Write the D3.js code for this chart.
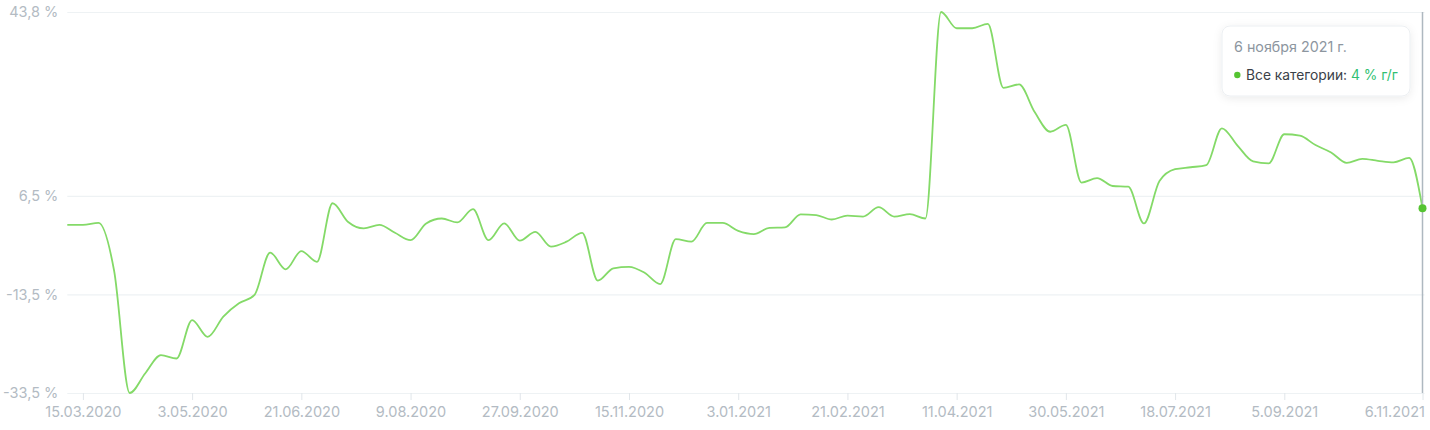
<!DOCTYPE html>
<html>
<head>
<meta charset="utf-8">
<script src="https://cdn.jsdelivr.net/npm/d3@7"></script>
<style>
  html, body { margin: 0; padding: 0; background: #fff; }
  svg { display: block; font-family: Inter, "Open Sans", sans-serif; }
</style>
</head>
<body>
<svg id="chart" width="1430" height="430"></svg>
<script>
// ---- data ----
const dates = [
  "2020-03-08","2020-03-15","2020-03-22","2020-03-29","2020-04-05","2020-04-12","2020-04-19","2020-04-26",
  "2020-05-03","2020-05-10","2020-05-17","2020-05-24","2020-05-31","2020-06-07","2020-06-14","2020-06-21",
  "2020-06-28","2020-07-05","2020-07-12","2020-07-19","2020-07-26","2020-08-02","2020-08-09","2020-08-16",
  "2020-08-23","2020-08-30","2020-09-06","2020-09-13","2020-09-20","2020-09-27","2020-10-04","2020-10-11",
  "2020-10-18","2020-10-25","2020-11-01","2020-11-08","2020-11-15","2020-11-22","2020-11-29","2020-12-06",
  "2020-12-13","2020-12-20","2020-12-27","2021-01-03","2021-01-10","2021-01-17","2021-01-24","2021-01-31",
  "2021-02-07","2021-02-14","2021-02-21","2021-02-28","2021-03-07","2021-03-14","2021-03-21","2021-03-28",
  "2021-04-04","2021-04-11","2021-04-18","2021-04-25","2021-05-02","2021-05-09","2021-05-16","2021-05-23",
  "2021-05-30","2021-06-06","2021-06-13","2021-06-20","2021-06-27","2021-07-04","2021-07-11","2021-07-18",
  "2021-07-25","2021-08-01","2021-08-08","2021-08-15","2021-08-22","2021-08-29","2021-09-05","2021-09-12",
  "2021-09-19","2021-09-26","2021-10-03","2021-10-10","2021-10-17","2021-10-24","2021-10-31","2021-11-06"
];
const allCategories = [
  0.6, 0.6, 1.0, -8.7, -33.5, -29.5, -25.8, -26.5,
  -18.7, -22.1, -18.0, -15.3, -13.6, -5.0, -8.4, -4.7,
  -6.9, 5.0, 1.2, -0.1, 0.6, -1.0, -2.5, 0.9,
  1.9, 1.1, 3.8, -2.5, 0.9, -2.6, -0.8, -3.8,
  -2.8, -1.0, -10.7, -8.2, -7.9, -9.1, -11.4, -2.3,
  -2.8, 1.0, 1.0, -0.6, -1.25, 0.0, 0.1, 2.75,
  2.6, 1.7, 2.5, 2.3, 4.2, 2.3, 2.8, 1.9,
  43.8, 40.5, 40.5, 41.4, 28.4, 29.1, 23.5, 19.5,
  20.9, 9.2, 10.1, 8.5, 8.35, 0.9, 9.5, 11.9,
  12.3, 12.75, 20.2, 16.7, 13.5, 13.1, 19.0, 18.7,
  16.8, 15.3, 13.2, 14.0, 13.6, 13.3, 14.2, 4.0
];
const yTicks = [-33.5, -13.5, 6.5, 43.8];
const yTickLabels = ["-33,5 %", "-13,5 %", "6,5 %", "43,8 %"];
const xTicks = ["2020-03-15","2020-05-03","2020-06-21","2020-08-09","2020-09-27","2020-11-15",
                "2021-01-03","2021-02-21","2021-04-11","2021-05-30","2021-07-18","2021-09-05","2021-11-06"];
const xTickLabels = ["15.03.2020","3.05.2020","21.06.2020","9.08.2020","27.09.2020","15.11.2020",
                     "3.01.2021","21.02.2021","11.04.2021","30.05.2021","18.07.2021","5.09.2021","6.11.2021"];
const tooltipTitle = "6 ноября 2021 г.";
const seriesName = "Все категории:";
const tooltipValue = "4 % г/г";

// ---- drawing ----
const parse = d3.utcParse("%Y-%m-%d");
const data = dates.map((d, i) => ({ date: parse(d), value: allCategories[i] }));

const svg = d3.select("#chart");
const mLeft = 67.3, mRight = 1422.5, mTop = 12, mBottom = 393;

const x = d3.scaleUtc().domain(d3.extent(data, d => d.date)).range([mLeft, mRight]);
const y = d3.scaleLinear().domain([-33.5, 43.8]).range([mBottom, mTop]);

// grid lines
const yAxis = d3.axisLeft(y).tickValues(yTicks)
  .tickFormat((d, i) => yTickLabels[i])
  .tickSize(-(mRight - mLeft + 2)).tickPadding(9);
const gy = svg.append("g").attr("transform", `translate(${mLeft},0)`).call(yAxis);
gy.select(".domain").remove();
gy.selectAll(".tick line").attr("stroke", "#eef2f4").attr("stroke-width", 1.2);
gy.selectAll(".tick text").attr("fill", "#b3bbc3").style("font-size", "14.5px")
  .style("font-family", "Inter, 'Open Sans', sans-serif");

// x axis
const xAxis = d3.axisBottom(x).tickValues(xTicks.map(parse))
  .tickFormat((d, i) => xTickLabels[i]).tickSize(7).tickPadding(7);
const gx = svg.append("g").attr("transform", `translate(0,${mBottom})`).call(xAxis);
gx.select(".domain").remove();
gx.selectAll(".tick line").attr("stroke", "#e1e6ea");
gx.selectAll(".tick text").attr("fill", "#b3bbc3").style("font-size", "14.5px")
  .style("font-family", "Inter, 'Open Sans', sans-serif");
gx.selectAll(".tick text").filter((d, i) => i === xTicks.length - 1)
  .attr("text-anchor", "end").attr("dx", 2);

// line
const line = d3.line().x(d => x(d.date)).y(d => y(d.value)).curve(d3.curveMonotoneX);
svg.append("path").datum(data)
  .attr("fill", "none").attr("stroke", "#84da68").attr("stroke-width", 1.8)
  .attr("stroke-linejoin", "round").attr("d", line);

// crosshair
const last = data[data.length - 1];
svg.append("line")
  .attr("x1", x(last.date)).attr("x2", x(last.date))
  .attr("y1", mTop).attr("y2", mBottom)
  .attr("stroke", "#aeb8c0").attr("stroke-width", 1.5);

svg.append("circle")
  .attr("cx", x(last.date)).attr("cy", y(last.value)).attr("r", 4)
  .attr("fill", "#55c431");

// tooltip
const defs = svg.append("defs");
const f = defs.append("filter").attr("id", "shadow").attr("x", "-20%").attr("y", "-30%")
  .attr("width", "140%").attr("height", "160%");
f.append("feDropShadow").attr("dx", 0).attr("dy", 2).attr("stdDeviation", 4)
  .attr("flood-color", "#000").attr("flood-opacity", 0.08);

const tip = svg.append("g").attr("transform", "translate(1222,26)");
tip.append("rect").attr("width", 188).attr("height", 70).attr("rx", 8)
  .attr("fill", "#fff").attr("stroke", "#eceff2").attr("filter", "url(#shadow)");
tip.append("text").attr("x", 12).attr("y", 26).text(tooltipTitle)
  .attr("fill", "#8d969f").style("font-size", "14.3px");
tip.append("circle").attr("cx", 15.3).attr("cy", 49).attr("r", 3.2).attr("fill", "#55c431");
const t2 = tip.append("text").attr("x", 24).attr("y", 54).style("font-size", "13.8px");
t2.append("tspan").attr("fill", "#3a4148").text(seriesName + " ");
t2.append("tspan").attr("fill", "#2fbf71").text(tooltipValue);
</script>
</body>
</html>
